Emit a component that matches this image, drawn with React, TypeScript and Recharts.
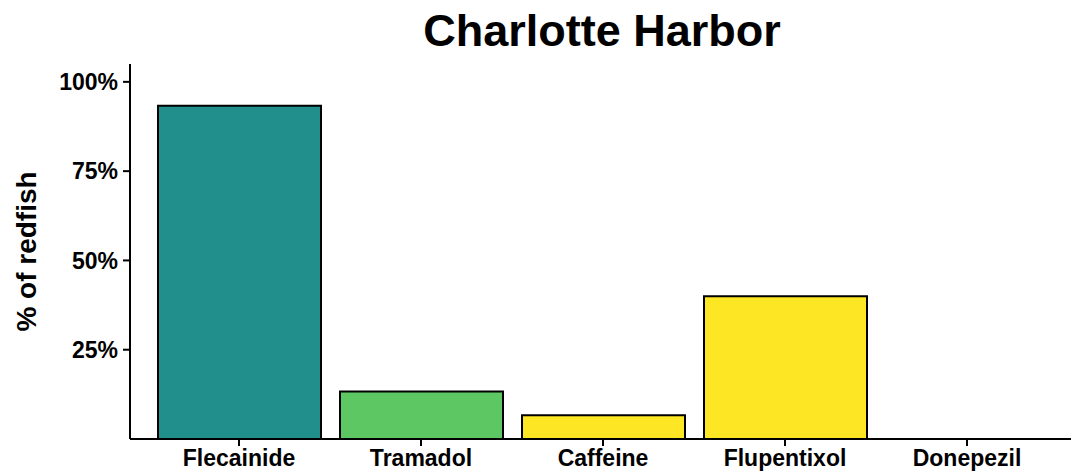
import React from "react";
import { BarChart, Bar, XAxis, YAxis, Cell, Customized } from "recharts";

const categories = ["Flecainide", "Tramadol", "Caffeine", "Flupentixol", "Donepezil"];
const percentRedfish = [93.33, 13.33, 6.67, 40, 0];
const barColors = ["#21908C", "#5DC863", "#FDE725", "#FDE725", "#FDE725"];
const yTicks = [25, 50, 75, 100];
const title = "Charlotte Harbor";
const yLabel = "% of redfish";

const data = categories.map((c, i) => ({ name: c, value: percentRedfish[i] }));

const FONT = "'Liberation Sans', Arial, sans-serif";

const YLabel = (props: any) => {
  const vb = props.viewBox || {};
  const cx = 18;
  const cy = vb.y + vb.height / 2;
  return (
    <text
      x={cx}
      y={cy}
      transform={`rotate(-90, ${cx}, ${cy})`}
      textAnchor="middle"
      dominantBaseline="central"
      fontFamily={FONT}
      fontWeight="bold"
      fontSize={28}
      fill="#000"
    >
      {yLabel}
    </text>
  );
};

const Title = () => (
  <text
    x={594}
    y={38}
    textAnchor="middle"
    fontFamily={FONT}
    fontWeight="bold"
    fontSize={45}
    fill="#000"
  >
    {title}
  </text>
);

export default function App() {
  return (
    <div style={{ position: "absolute", left: 8, top: 8, width: 1063, height: 465 }}>
      <BarChart
        width={1063}
        height={465}
        data={data}
        margin={{ top: 56, right: 0, bottom: 0, left: 0 }}
      >
        <Customized component={Title} />
        <XAxis
          dataKey="name"
          height={34}
          padding={{ left: 18, right: 13 }}
          axisLine={{ stroke: "#000", strokeWidth: 2 }}
          tickLine={{ stroke: "#000", strokeWidth: 2 }}
          tickSize={7}
          tickMargin={4}
          tick={{ fill: "#000", fontFamily: FONT, fontWeight: "bold", fontSize: 23 }}
          interval={0}
        />
        <YAxis
          width={122}
          domain={[0, 105]}
          ticks={yTicks}
          allowDataOverflow
          tickFormatter={(v: number) => `${v}%`}
          axisLine={{ stroke: "#000", strokeWidth: 2 }}
          tickLine={{ stroke: "#000", strokeWidth: 2 }}
          tickSize={7}
          tickMargin={5}
          tick={{ fill: "#000", fontFamily: FONT, fontWeight: "bold", fontSize: 23 }}
          label={{ content: YLabel }}
        />
        <Bar dataKey="value" barSize={163} stroke="#000" strokeWidth={2} isAnimationActive={false}>
          {data.map((d, i) => (
            <Cell key={d.name} fill={barColors[i]} />
          ))}
        </Bar>
      </BarChart>
    </div>
  );
}
